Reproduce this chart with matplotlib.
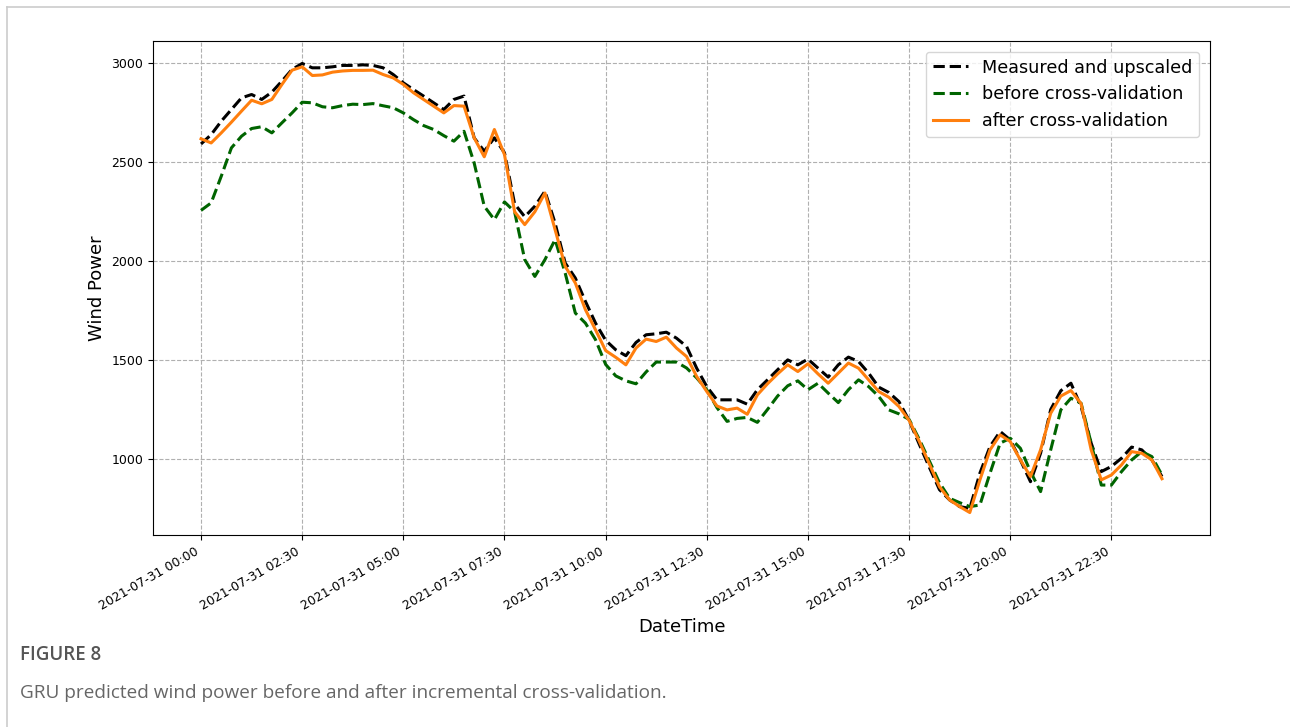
import numpy as np
import pandas as pd
import matplotlib
matplotlib.use("Agg")
import matplotlib.pyplot as plt
import matplotlib.dates as mdates
from matplotlib.lines import Line2D

# 15-minute samples over one day
times = pd.date_range("2021-07-31 00:00", periods=96, freq="15min")

measured = [
    2593, 2640, 2708, 2767, 2826, 2843, 2818, 2855, 2911, 2970, 3000, 2978,
    2978, 2983, 2990, 2990, 2993, 2990, 2978, 2944, 2902, 2868, 2835, 2801,
    2767, 2818, 2835, 2624, 2556, 2624, 2548, 2290, 2225, 2278, 2354, 2193,
    1991, 1915, 1797, 1687, 1600, 1552, 1522, 1589, 1628, 1633, 1641, 1611,
    1569, 1459, 1366, 1299, 1299, 1299, 1277, 1350, 1400, 1451, 1501, 1476,
    1505, 1459, 1414, 1476, 1515, 1493, 1434, 1363, 1336, 1290, 1195, 1075,
    958, 845, 793, 759, 750, 928, 1063, 1139, 1096, 995, 885, 1029,
    1250, 1345, 1383, 1265, 1080, 936, 962, 1004, 1060, 1046, 995, 911,
]

before_cv = [
    2257, 2295, 2430, 2573, 2632, 2671, 2680, 2649, 2700, 2750, 2804, 2801,
    2781, 2776, 2787, 2794, 2792, 2797, 2786, 2776, 2750, 2716, 2686, 2666,
    2635, 2607, 2657, 2497, 2278, 2210, 2300, 2250, 2008, 1923, 2008, 2109,
    1940, 1738, 1687, 1603, 1478, 1420, 1395, 1380, 1440, 1490, 1490, 1490,
    1460, 1410, 1350, 1260, 1190, 1205, 1210, 1185, 1250, 1318, 1370, 1395,
    1350, 1383, 1333, 1285, 1350, 1400, 1366, 1316, 1248, 1228, 1200, 1100,
    990, 880, 801, 779, 759, 767, 928, 1080, 1105, 1054, 936, 835,
    1046, 1248, 1307, 1282, 1080, 868, 868, 936, 995, 1037, 1012, 919,
]

after_cv = [
    2619, 2598, 2649, 2703, 2759, 2814, 2796, 2818, 2894, 2966, 2983, 2939,
    2942, 2956, 2962, 2965, 2965, 2966, 2944, 2927, 2894, 2852, 2818, 2784,
    2750, 2787, 2784, 2624, 2528, 2666, 2539, 2250, 2185, 2250, 2345, 2160,
    1974, 1890, 1755, 1653, 1548, 1514, 1476, 1561, 1606, 1594, 1616, 1561,
    1518, 1417, 1341, 1268, 1248, 1257, 1226, 1324, 1380, 1430, 1476, 1442,
    1481, 1430, 1383, 1434, 1485, 1459, 1400, 1341, 1312, 1265, 1195, 1090,
    975, 860, 793, 759, 729, 894, 1046, 1122, 1088, 995, 911, 1046,
    1231, 1318, 1346, 1280, 1046, 894, 919, 970, 1037, 1029, 995, 900,
]

tick_times = pd.date_range("2021-07-31 00:00", "2021-07-31 22:30", freq="150min")

fig = plt.figure(figsize=(12.9, 7.27), dpi=100)
ax = fig.add_axes([0.1186, 0.2641, 0.8194, 0.6795])

ax.plot(times, measured, color="black", linestyle="--", linewidth=2.2,
        label="Measured and upscaled")
ax.plot(times, before_cv, color="darkgreen", linestyle="--", linewidth=2.2,
        label="before cross-validation")
ax.plot(times, after_cv, color="#ff7f0e", linestyle="-", linewidth=2.2,
        label="after cross-validation")

ax.set_xticks(tick_times)
ax.xaxis.set_major_formatter(mdates.DateFormatter("%Y-%m-%d %H:%M"))
for lab in ax.get_xticklabels():
    lab.set_rotation(30)
    lab.set_ha("right")
ax.tick_params(axis="both", labelsize=9)
ax.set_yticks([1000, 1500, 2000, 2500, 3000])

ax.grid(True, linestyle="--", color="#b0b0b0", linewidth=0.8)
ax.set_xlabel("DateTime", fontsize=13)
ax.set_ylabel("Wind Power", fontsize=13)
ax.legend(loc="upper right", fontsize=12.7, handlelength=2.0,
          borderaxespad=0.6)

# outer panel border (top and left edges)
fig.add_artist(Line2D([7 / 1290, 1.0], [1 - 7 / 727, 1 - 7 / 727],
                      transform=fig.transFigure, color="#cccccc", linewidth=1.2))
fig.add_artist(Line2D([7 / 1290, 7 / 1290], [0.0, 1 - 7 / 727],
                      transform=fig.transFigure, color="#cccccc", linewidth=1.2))

fig.text(20 / 1290, 1 - 655 / 727, "FIGURE 8", fontsize=13.5, color="#555555",
         family="Open Sans", fontweight="semibold", va="center", ha="left")
fig.text(20 / 1290, 1 - 693 / 727,
         "GRU predicted wind power before and after incremental cross-validation.",
         fontsize=13.7, color="#666666", family="Open Sans", va="center", ha="left")

fig.savefig("out.png", dpi=100)
